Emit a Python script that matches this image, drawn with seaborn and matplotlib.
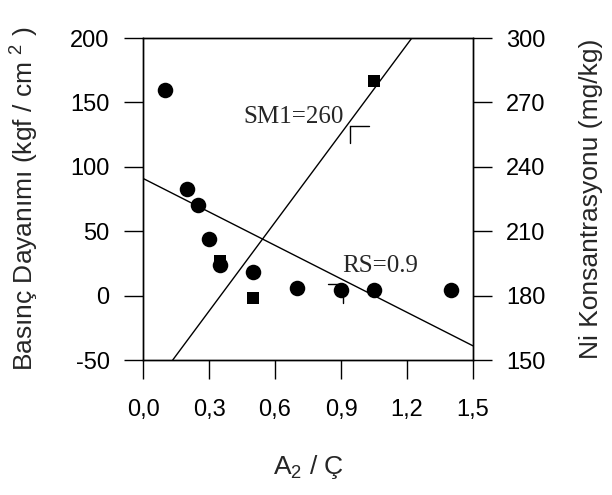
import matplotlib
matplotlib.use("Agg")
import matplotlib.pyplot as plt
import seaborn as sns
import pandas as pd

# =========================================================
# DATA
# =========================================================

# Basinc dayanimi (left axis) - circles
circle_x = [0.10, 0.20, 0.25, 0.30, 0.35, 0.50, 0.70, 0.90, 1.05, 1.40]
circle_y = [160, 83, 70, 44, 24, 18, 6, 4, 4, 4]

# Ni konsantrasyonu (right axis) - squares
square_x = [0.35, 0.50, 1.05]
square_y = [196, 179, 280]

# fitted lines
rs_line_x = [0.0, 1.5]
rs_line_y = [91, -39]
sm_line_x = [0.135, 1.222]
sm_line_y = [150, 300]

x_ticks = [0.0, 0.3, 0.6, 0.9, 1.2, 1.5]
x_tick_labels = ["0,0", "0,3", "0,6", "0,9", "1,2", "1,5"]
left_ticks = [-50, 0, 50, 100, 150, 200]
right_ticks = [150, 180, 210, 240, 270, 300]

# =========================================================
# STYLE
# =========================================================

sns.set_style("ticks")
plt.rcParams["font.family"] = ["Liberation Sans", "DejaVu Sans"]
plt.rcParams["mathtext.fontset"] = "custom"
plt.rcParams["mathtext.rm"] = "Liberation Sans"
plt.rcParams["axes.unicode_minus"] = False

fs = 17
lab_fs = 19

fig = plt.figure(figsize=(6.12, 4.95), dpi=100)
ax = fig.add_axes([0.2337, 0.2727, 0.5392, 0.6505])
ax2 = ax.twinx()

# =========================================================
# MARKS
# =========================================================

circles = pd.DataFrame({"x": circle_x, "y": circle_y})
squares = pd.DataFrame({"x": square_x, "y": square_y})

sns.scatterplot(data=circles, x="x", y="y", ax=ax, color="black",
                marker="o", s=125, edgecolor="black", linewidth=0, zorder=3)
sns.lineplot(x=rs_line_x, y=rs_line_y, ax=ax, color="black", linewidth=1)

sns.scatterplot(data=squares, x="x", y="y", ax=ax2, color="black",
                marker="s", s=80, edgecolor="black", linewidth=0, zorder=3)
sns.lineplot(x=sm_line_x, y=sm_line_y, ax=ax2, color="black", linewidth=1)

# corner marks next to the annotations
ax2.plot([0.94, 1.027], [259, 259], color="black", lw=1)
ax2.plot([0.94, 0.94], [259, 251], color="black", lw=1)
ax.plot([0.84, 0.91], [9, 9], color="black", lw=1)
ax.plot([0.91, 0.91], [9, -6], color="black", lw=1)

ax2.text(0.685, 263, "SM1=260", ha="center", va="center",
         fontsize=18, family="Liberation Serif")
ax.text(1.077, 23, "RS=0.9", ha="center", va="center",
        fontsize=18, family="Liberation Serif")

# =========================================================
# AXES
# =========================================================

ax.set_xlim(0, 1.5)
ax.set_ylim(-50, 200)
ax2.set_ylim(150, 300)

ax.set_xticks(x_ticks)
ax.set_xticklabels(x_tick_labels)
ax.set_yticks(left_ticks)
ax2.set_yticks(right_ticks)

for a in (ax, ax2):
    a.tick_params(direction="out", length=14, width=1, labelsize=fs,
                  color="black", labelcolor="black", pad=10)
    for s in a.spines.values():
        s.set_visible(True)
        s.set_linewidth(1)
        s.set_color("black")
ax.tick_params(axis="x", pad=14)

ax.set_xlabel("$\\mathregular{A_2}$ / Ç", fontsize=lab_fs, labelpad=23)
ax.set_ylabel("Basınç Dayanımı (kgf / cm $\\mathregular{^2}$ )",
              fontsize=lab_fs, labelpad=21)
ax2.set_ylabel("Ni Konsantrasyonu (mg/kg)", fontsize=lab_fs, labelpad=24)

fig.savefig("out.png", dpi=100)
